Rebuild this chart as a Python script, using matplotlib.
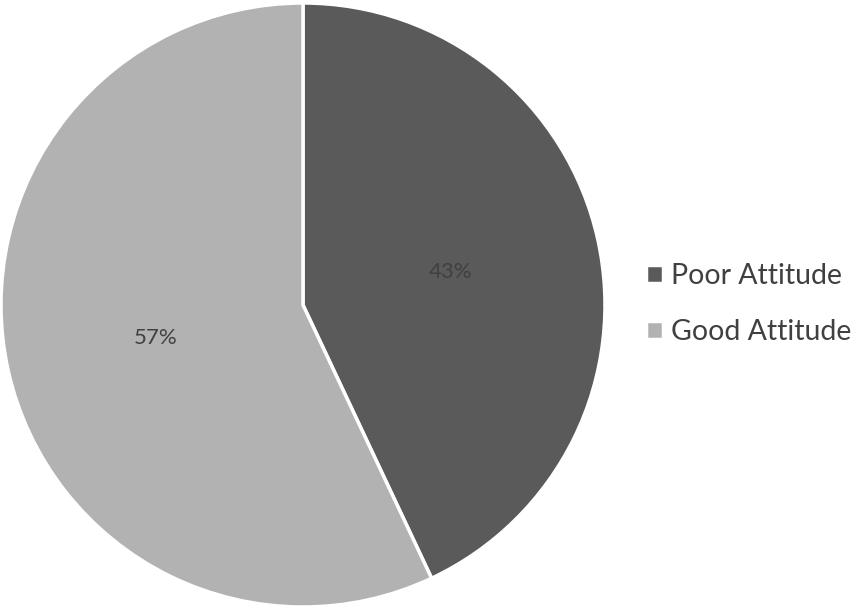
import matplotlib.pyplot as plt

labels = ["Poor Attitude", "Good Attitude"]
shares = [43, 57]
colors = ["#5a5a5a", "#b2b2b2"]

plt.rcParams["font.family"] = ["Lato", "DejaVu Sans"]

W, H = 854, 608
fig = plt.figure(figsize=(W / 100, H / 100), dpi=100)
# pie centred at about (303, 305) px, radius ~302 px
ax = fig.add_axes([1 / W, 1 / H, 604 / W, 604 / H])

wedges, texts, autotexts = ax.pie(
    shares,
    colors=colors,
    startangle=90,
    counterclock=False,
    autopct="%d%%",
    pctdistance=0.5,
    wedgeprops=dict(edgecolor="white", linewidth=2.5),
    textprops=dict(color="#404040", fontsize=16),
    radius=1.0,
)
ax.set_xlim(-1.0, 1.0)
ax.set_ylim(-1.0, 1.0)
ax.set_aspect("equal")

fig.legend(
    wedges,
    labels,
    loc="center left",
    bbox_to_anchor=(620 / W, 1 - 304 / H),
    frameon=False,
    fontsize=20.5,
    labelcolor="#404040",
    handlelength=0.6,
    handleheight=0.6,
    handletextpad=0.3,
    labelspacing=1.05,
)

fig.savefig("out.png", dpi=100)
